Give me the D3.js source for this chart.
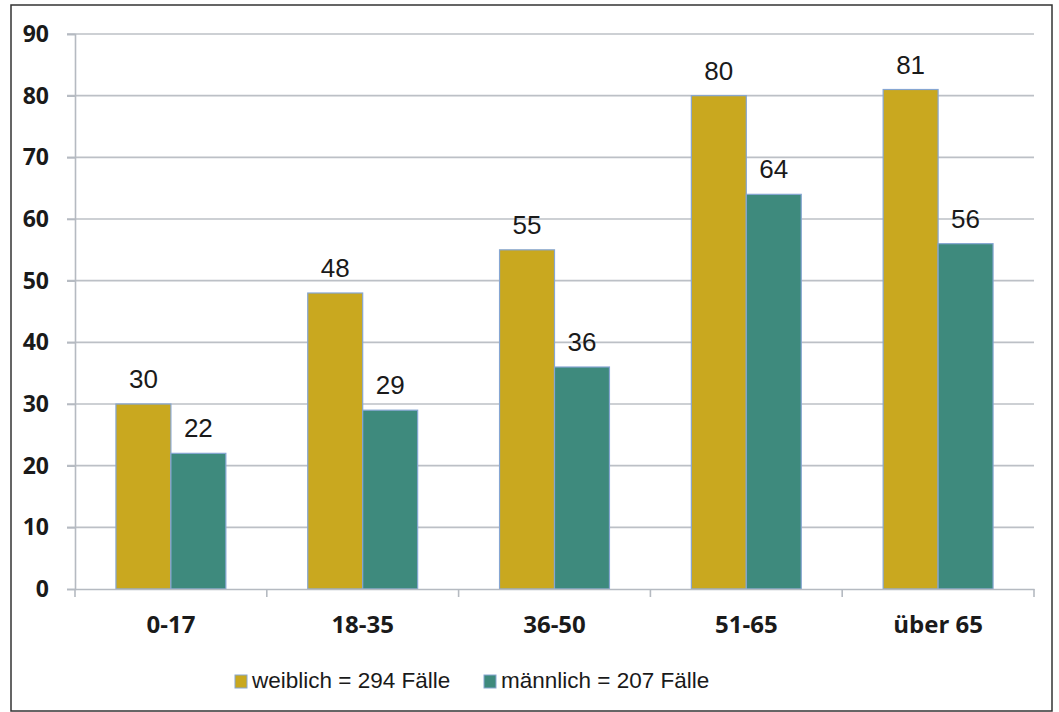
<!DOCTYPE html>
<html>
<head>
<meta charset="utf-8">
<script src="https://cdn.jsdelivr.net/npm/d3@7"></script>
<style>
  html, body { margin: 0; padding: 0; background: #fff; }
  svg { display: block; }
</style>
</head>
<body>
<svg id="chart" width="1059" height="712"></svg>
<script>
const categories = ["0-17", "18-35", "36-50", "51-65", "über 65"];
const seriesNames = ["weiblich", "männlich"];
const weiblich = [30, 48, 55, 80, 81];
const maennlich = [22, 29, 36, 64, 56];
const legendLabels = ["weiblich = 294 Fälle", "männlich = 207 Fälle"];
const yTicks = [0, 10, 20, 30, 40, 50, 60, 70, 80, 90];
const colors = ["#C9A81F", "#3E8A7D"];

const svg = d3.select("#chart");
const m = { left: 75, right: 1034, top: 34, bottom: 589 };

// frame
svg.append("rect").attr("x", 11).attr("y", 5).attr("width", 1041).attr("height", 706)
  .attr("fill", "#fff").attr("stroke", "#333").attr("stroke-width", 1.5);

const y = d3.scaleLinear().domain([0, 90]).range([m.bottom, m.top]);
const x0 = d3.scaleBand().domain(categories).range([m.left, m.right]).padding(0);
const x1 = d3.scaleBand().domain(seriesNames).range([0, x0.bandwidth()]).paddingInner(0).paddingOuter(0.745);

// gridlines
svg.append("g").selectAll("line").data(yTicks.filter(d => d > 0)).join("line")
  .attr("x1", m.left - 8).attr("x2", m.right)
  .attr("y1", d => y(d)).attr("y2", d => y(d))
  .attr("stroke", "#BCC0C6").attr("stroke-width", 1.6);

// y axis
const yAxis = d3.axisLeft(y).tickValues(yTicks).tickSize(8).tickPadding(18);
const gy = svg.append("g").attr("transform", `translate(${m.left},0)`).call(yAxis);
gy.select(".domain").attr("stroke", "#B5BAC1").attr("stroke-width", 1.6);
gy.selectAll(".tick line").attr("stroke", "#B5BAC1").attr("stroke-width", 1.6);
gy.selectAll(".tick text").attr("font-family", "'Open Sans', sans-serif")
  .attr("font-weight", 700).attr("font-size", 23).attr("fill", "#1a1a1a");

// bars
const rows = categories.map((c, i) => ({ cat: c, vals: [weiblich[i], maennlich[i]] }));
const groups = svg.append("g").selectAll("g").data(rows).join("g")
  .attr("transform", d => `translate(${x0(d.cat)},0)`);
groups.selectAll("rect").data(d => d.vals.map((v, j) => ({ key: seriesNames[j], v, j })))
  .join("rect")
  .attr("x", d => x1(d.key)).attr("width", x1.bandwidth())
  .attr("y", d => y(d.v)).attr("height", d => y(0) - y(d.v))
  .attr("fill", d => colors[d.j]).attr("stroke", "#86A6D2").attr("stroke-width", 1.2);
groups.selectAll("text").data(d => d.vals.map((v, j) => ({ key: seriesNames[j], v, j })))
  .join("text")
  .attr("x", d => x1(d.key) + x1.bandwidth() / 2).attr("y", d => y(d.v) - 16)
  .attr("text-anchor", "middle")
  .attr("font-family", "'Liberation Sans', Arial, sans-serif").attr("font-size", 26)
  .attr("fill", "#1a1a1a").text(d => d.v);

// x axis
const xAxis = d3.axisBottom(x0).tickSize(0).tickPadding(0);
const gx = svg.append("g").attr("transform", `translate(0,${m.bottom})`).call(xAxis);
gx.select(".domain").attr("stroke", "#B5BAC1").attr("stroke-width", 1.6);
gx.selectAll(".tick text").attr("y", 44).attr("dy", null)
  .attr("font-family", "'Open Sans', sans-serif").attr("font-weight", 700)
  .attr("font-size", 24).attr("fill", "#1a1a1a");
// boundary tick marks
const bounds = categories.map(c => x0(c)).concat([m.right]);
svg.append("g").selectAll("line").data(bounds).join("line")
  .attr("x1", d => d).attr("x2", d => d).attr("y1", m.bottom).attr("y2", m.bottom + 8)
  .attr("stroke", "#B5BAC1").attr("stroke-width", 1.6);

// legend
const legendX = [235, 484];
const lg = svg.append("g").selectAll("g").data(legendLabels).join("g")
  .attr("transform", (d, i) => `translate(${legendX[i]},675)`);
lg.append("rect").attr("width", 12).attr("height", 13)
  .attr("fill", (d, i) => colors[i]).attr("stroke", "#86A6D2").attr("stroke-width", 1);
lg.append("text").attr("x", 17).attr("y", 13)
  .attr("font-family", "'Liberation Sans', Arial, sans-serif").attr("font-size", 22.5)
  .attr("fill", "#1a1a1a").text(d => d);
</script>
</body>
</html>
